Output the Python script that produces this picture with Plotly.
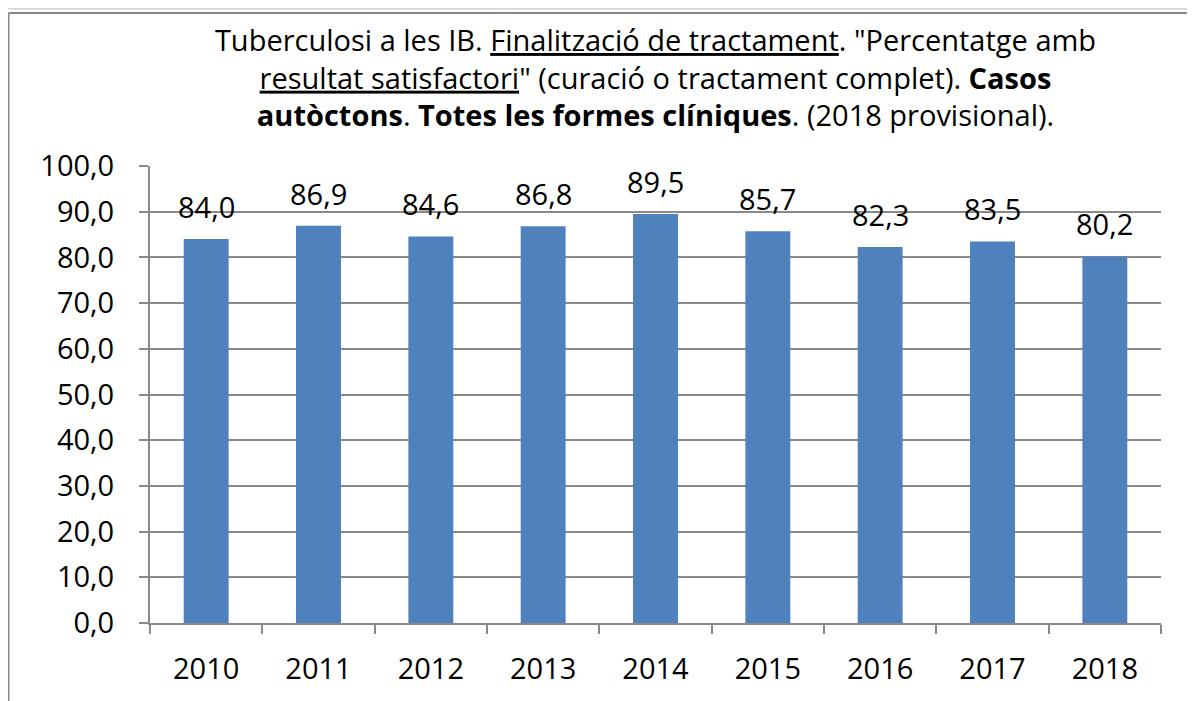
import plotly.graph_objects as go

# dades
anys = ['2010', '2011', '2012', '2013', '2014', '2015', '2016', '2017', '2018']
percentatge = [84.0, 86.9, 84.6, 86.8, 89.5, 85.7, 82.3, 83.5, 80.2]
etiquetes = ['84,0', '86,9', '84,6', '86,8', '89,5', '85,7', '82,3', '83,5', '80,2']

titol = (
    'Tuberculosi a les IB. <u>Finalització de tractament</u>. "Percentatge amb<br>'
    '<u>resultat satisfactori</u>" (curació o tractament complet). <b>Casos</b><br>'
    '<b>autòctons</b>. <b>Totes les formes clíniques</b>. (2018 provisional).'
)

FONT = 'Open Sans'
MIDA = 29
GRIS = '#898989'
BLAU = '#4F81BD'

# àrea de dibuix (px dins la figura)
ESQ, DRE, DALT, BAIX = 142, 42, 158, 86
AMPLE = 1195 - ESQ - DRE
ALT = 701 - DALT - BAIX


def px_x(v):
    return (v - ESQ) / AMPLE


def px_y(v):
    return (701 - BAIX - v) / ALT


fig = go.Figure()

fig.add_trace(go.Bar(
    x=anys,
    y=percentatge,
    marker=dict(color=BLAU, line=dict(width=0)),
    width=0.4,
    hoverinfo='x+y',
))

# etiquetes de dades (posició per índex de categoria)
for i, (v, t) in enumerate(zip(percentatge, etiquetes)):
    fig.add_annotation(
        x=i, y=v, text=t, showarrow=False,
        yanchor='bottom', yshift=11,
        font=dict(family=FONT, size=MIDA, color='black'),
    )

fig.update_layout(
    width=1195,
    height=701,
    margin=dict(l=ESQ, r=DRE, t=DALT, b=BAIX, autoexpand=False),
    paper_bgcolor='white',
    plot_bgcolor='white',
    separators=',.',
    showlegend=False,
    title=dict(
        text=titol,
        x=0.5, xref='paper',
        y=1 - 43 / 701, yref='container', yanchor='top',
        font=dict(family=FONT, size=MIDA, color='black'),
        automargin=False,
    ),
    font=dict(family=FONT, size=MIDA, color='black'),
    yaxis=dict(
        range=[0, 100],
        dtick=10,
        tickformat='.1f',
        showgrid=True,
        gridcolor=GRIS,
        gridwidth=2,
        showline=True,
        linecolor=GRIS,
        linewidth=2,
        ticks='outside',
        ticklen=9,
        tickwidth=2,
        tickcolor=GRIS,
        ticklabelstandoff=19,
        zeroline=False,
        automargin=False,
    ),
    xaxis=dict(
        type='category',
        range=[-0.5, len(anys) - 0.5],
        showline=True,
        linecolor=GRIS,
        linewidth=2,
        ticks='outside',
        tickson='boundaries',
        ticklen=9,
        tickwidth=2,
        tickcolor=GRIS,
        ticklabelstandoff=19,
        tickangle=0,
        showgrid=False,
        automargin=False,
    ),
)

# marc del gràfic
fig.add_shape(type='line', xref='paper', yref='paper',
              x0=-0.2, x1=1.1, y0=px_y(0.5), y1=px_y(0.5),
              line=dict(color='#d4d4d4', width=2))
fig.add_shape(type='line', xref='paper', yref='paper',
              x0=px_x(0.5), x1=1.1, y0=px_y(5), y1=px_y(5),
              line=dict(color=GRIS, width=2))
fig.add_shape(type='line', xref='paper', yref='paper',
              x0=px_x(0.5), x1=px_x(0.5), y0=px_y(5), y1=px_y(720),
              line=dict(color=GRIS, width=2))

fig.write_html('out.html')
